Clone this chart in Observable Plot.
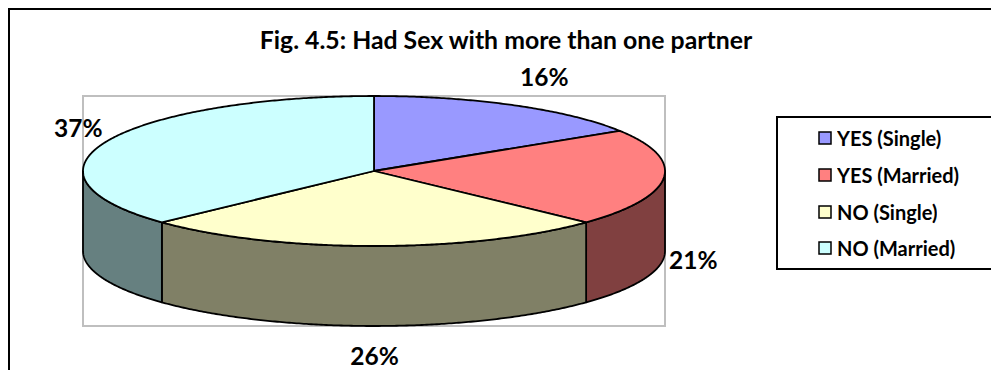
<!DOCTYPE html>
<html>
<head>
<meta charset="utf-8">
<script src="https://cdn.jsdelivr.net/npm/d3@7"></script>
<script src="https://cdn.jsdelivr.net/npm/@observablehq/plot@0.6"></script>
<style>
  body { margin: 0; background: #fff; }
  #wrap { position: relative; width: 991px; height: 370px; overflow: hidden; font-family: Lato, "Open Sans", sans-serif; }
  #chart { position: absolute; left: 0; top: 0; }
  #frame { position: absolute; left: 8px; top: 8px; width: 1100px; height: 500px; border: 2px solid #000; }
  #title { position: absolute; left: 0; top: 24.5px; width: 1012px; text-align: center; font: bold 24.8px/1.2 Lato, sans-serif; color: #000; }
  #legend { position: absolute; left: 776px; top: 116px; width: 300px; height: 150px; border: 2px solid #000; background: #fff; box-sizing: content-box; }
  #legend > div { position: absolute; left: 41px; top: 2px; margin: 0 !important; }
  #legend div[class$="-swatch"] { height: 36.7px; padding: 0 !important; display: flex; align-items: center; font: bold 20px Lato, sans-serif; color: #000; }
  #legend svg { margin-right: 6px !important; overflow: visible; }
  #legend rect { stroke: #000; stroke-width: 1.5px; }
</style>
</head>
<body>
<div id="wrap">
  <div id="chart"></div>
  <div id="title">Fig. 4.5: Had Sex with more than one partner</div>
  <div id="legend"></div>
  <div id="frame"></div>
</div>
<script>
// ---- data ----
const categories = ["YES (Single)", "YES (Married)", "NO (Single)", "NO (Married)"];
const values = [16, 21, 26, 37];
const labels = ["16%", "21%", "26%", "37%"];

// ---- style ----
const topColors = ["#9999FF", "#FF8080", "#FFFFCC", "#CCFFFF"];
const sideColors = ["#4D4D80", "#804040", "#808066", "#668080"];

// ---- layout (pixel space) ----
const W = 991, H = 370;
const cx = 374, cy = 171, rx = 291, ry = 75, depth = 80;
const labRx = 290, labRy = 106, labPad = 30;

const total = d3.sum(values);
const rad = Math.PI / 180;
let acc = 0;
const slices = categories.map((c, i) => {
  const a0 = acc / total * 360;
  acc += values[i];
  const a1 = acc / total * 360;
  return {cat: c, i, a0, a1, label: labels[i]};
});

function arcPoints(cat, a0, a1) {
  const n = Math.max(2, Math.ceil((a1 - a0) / 0.5));
  const pts = [];
  for (let k = 0; k <= n; k++) {
    const t = (a0 + (a1 - a0) * k / n) * rad;
    pts.push({cat, x: cx + rx * Math.sin(t), y: cy - ry * Math.cos(t)});
  }
  return pts;
}

const topPts = slices.flatMap(s => arcPoints(s.cat, s.a0, s.a1));
const sideMarks = slices.map(s => {
  const b0 = Math.max(s.a0, 90), b1 = Math.min(s.a1, 270);
  if (b1 <= b0) return null;
  return Plot.area(arcPoints(s.cat, b0, b1), {
    x1: "x", y1: "y", y2: d => d.y + depth,
    fill: sideColors[s.i], stroke: "#000", strokeWidth: 1.8, strokeLinejoin: "round"
  });
}).filter(Boolean);

const labelData = slices.map(s => {
  const m = (s.a0 + s.a1) / 2 * rad;
  const sn = Math.sin(m), c = Math.cos(m);
  const sg = Math.abs(sn) < 1e-6 ? 0 : Math.sign(sn);
  return {label: s.label, x: cx + labRx * sn + labPad * sg, y: cy - labRy * c + (c < 0 ? depth : 0)};
});

const chart = Plot.plot({
  width: W, height: H, margin: 0,
  style: {background: "transparent", overflow: "visible"},
  x: {domain: [0, W], range: [0, W], axis: null},
  y: {domain: [0, H], range: [0, H], axis: null},
  color: {domain: categories, range: topColors},
  marks: [
    Plot.rect([{}], {x1: cx - rx, x2: cx + rx, y1: cy - ry, y2: cy + ry + depth, fill: "none", stroke: "#BFBFBF", strokeWidth: 2}),
    ...sideMarks,
    Plot.area(topPts, {x1: "x", y1: "y", x2: () => cx, y2: () => cy, z: "cat", fill: "cat", stroke: "#000", strokeWidth: 1.8, strokeLinejoin: "round"}),
    Plot.text(labelData, {x: "x", y: "y", text: "label", fontSize: 24.5, fontWeight: "bold", fontFamily: "Lato, sans-serif", fill: "#000"})
  ]
});
document.getElementById("chart").appendChild(chart);

const legend = Plot.legend({
  color: {domain: categories, range: topColors},
  legend: "swatches", columns: 1, swatchSize: 12
});
document.getElementById("legend").appendChild(legend);
</script>
</body>
</html>
